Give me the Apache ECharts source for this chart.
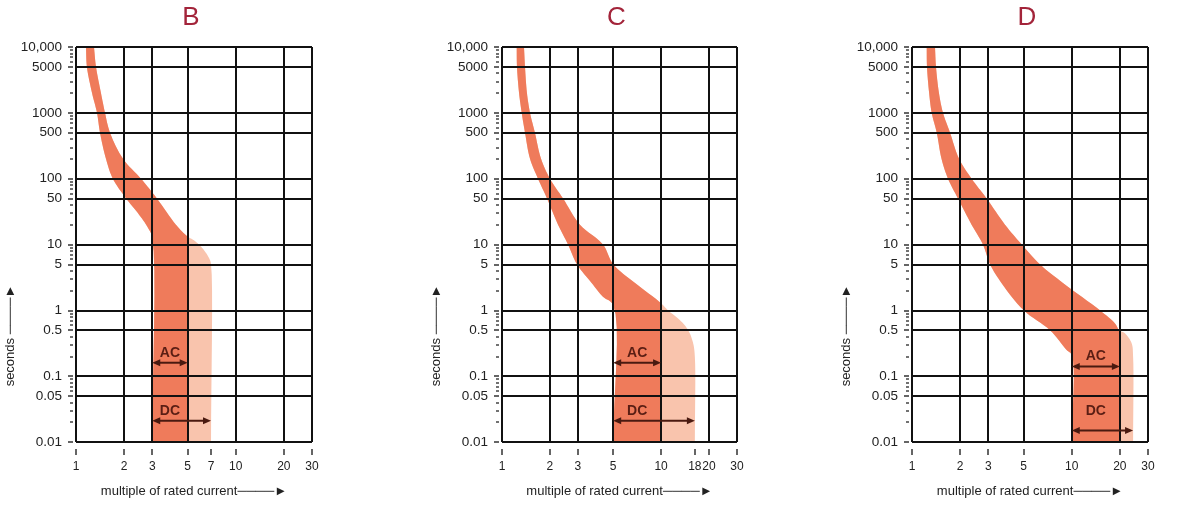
<!DOCTYPE html>
<html><head><meta charset="utf-8">
<script src="https://cdn.jsdelivr.net/npm/echarts@6/dist/echarts.min.js"></script>
<style>html,body{margin:0;padding:0;background:#fff}#c{width:1200px;height:510px}</style>
</head><body><div id="c"></div>
<script>
// ---------- axis ticks ----------
const xGridVals = [1, 2, 3, 5, 10, 20, 30];
const xTickValsB = [1, 2, 3, 5, 7, 10, 20, 30];
const xTickLabelsB = ['1', '2', '3', '5', '7', '10', '20', '30'];
const xTickValsC = [1, 2, 3, 5, 10, 16.3, 20, 30];   // "18" tick sits here in the reference
const xTickLabelsC = ['1', '2', '3', '5', '10', '18', '20', '30'];
const xTickValsD = [1, 2, 3, 5, 10, 20, 30];
const xTickLabelsD = ['1', '2', '3', '5', '10', '20', '30'];
const yTickVals = [0.01, 0.05, 0.1, 0.5, 1, 5, 10, 50, 100, 500, 1000, 5000, 10000];
const yTickLabels = ['0.01', '0.05', '0.1', '0.5', '1', '5', '10', '50', '100', '500', '1000', '5000', '10,000'];
const yMinorMultipliers = [2, 3, 4, 6, 7, 8, 9];
const yDecades = [0.01, 0.1, 1, 10, 100, 1000];

// ---------- trip-curve bands: [multiple of rated current, seconds] ----------
const bLeft = [[1.155,10000],[1.17,5000],[1.26,2000],[1.353,1000],[1.413,500],[1.54,200],[1.70,100],[2.06,50],[2.44,30],[2.82,18],[3,12.6],[3,0.01]];
const bRight = [[1.296,10000],[1.334,5000],[1.433,2000],[1.519,1000],[1.632,500],[1.97,200],[2.55,100],[3.21,50],[4.22,20],[5.0,13.2],[5.5,11.5],[6.3,8.3],[6.85,6],[7,5],[7,0.01]];
const cLeft = [[1.237,10000],[1.242,5000],[1.28,2000],[1.33,1000],[1.395,500],[1.5,200],[1.684,100],[1.918,50],[2.25,20],[2.6,10],[2.96,5],[3.66,2.6],[4.31,1.61],[5,1.2],[5,0.01]];
const cRight = [[1.375,10000],[1.395,5000],[1.435,2000],[1.5,1000],[1.61,500],[1.76,200],[2.0,100],[2.42,50],[3.09,20],[4.31,10],[5.0,5],[6.86,2.6],[10,1.28],[11.05,1],[13.1,0.714],[14.8,0.5],[15.9,0.316],[16.3,0.198],[16.3,0.01]];
const dLeft = [[1.236,10000],[1.241,5000],[1.28,2000],[1.328,1000],[1.428,500],[1.53,200],[1.68,100],[1.94,50],[2.36,20],[2.78,10],[3.08,5],[3.64,2.58],[5.0,1],[7.3,0.5],[9.29,0.25],[10,0.21],[10,0.01]];
const dRight = [[1.393,10000],[1.413,5000],[1.475,2000],[1.563,1000],[1.73,500],[1.97,200],[2.36,100],[2.93,50],[3.82,20],[4.86,10],[6.32,5],[8.85,2.58],[15,1],[18.6,0.637],[19.8,0.5],[21.5,0.449],[23.7,0.316],[24.2,0.198],[24.2,0.01]];

// ---------- AC / DC ranges ----------
const acRanges = [[3, 5], [5, 10], [10, 20]];
const dcRanges = [[3, 7], [5, 16.3], [10, 24.2]];
const acArrowY = [0.16, 0.16, 0.14];
const dcArrowY = [0.021, 0.021, 0.015];
const acTextY = [0.22, 0.22, 0.2];
const dcTextY = [0.029, 0.029, 0.029];
const titles = ['B', 'C', 'D'];

// ---------- styles ----------
const FONT = "'Liberation Sans', Arial, sans-serif";
const DARK = '#ef7b5b', LIGHT = '#f9c4ad', GRIDC = '#111', TXT = '#222', ARROWC = '#4a1a10';
const L = Math.log10;

const panelData = [
  {left: bLeft, right: bRight, xt: xTickValsB, xl: xTickLabelsB},
  {left: cLeft, right: cRight, xt: xTickValsC, xl: xTickLabelsC},
  {left: dLeft, right: dRight, xt: xTickValsD, xl: xTickLabelsD}
];
const gridBoxes = [
  {left: 76, top: 47, width: 236, height: 395},
  {left: 502, top: 47, width: 235, height: 395},
  {left: 912, top: 47, width: 236, height: 395}
];

const yMinorVals = [];
yDecades.forEach(d => yMinorMultipliers.forEach(m => yMinorVals.push(m * d)));

function findLabel(vals, labels, v) {
  for (let i = 0; i < vals.length; i++) if (Math.abs(L(vals[i]) - v) < 1e-6) return labels[i];
  return '';
}

// centripetal Catmull-Rom through pixel points (drawing only)
function smoothPx(pts, steps) {
  const n = pts.length;
  if (n < 3) return pts;
  const P = [[2 * pts[0][0] - pts[1][0], 2 * pts[0][1] - pts[1][1]]].concat(pts,
    [[2 * pts[n - 1][0] - pts[n - 2][0], 2 * pts[n - 1][1] - pts[n - 2][1]]]);
  const d = (a, b) => Math.max(Math.pow(Math.hypot(b[0] - a[0], b[1] - a[1]), 0.5), 1e-4);
  const out = [pts[0]];
  for (let i = 1; i < P.length - 2; i++) {
    const p0 = P[i - 1], p1 = P[i], p2 = P[i + 1], p3 = P[i + 2];
    const t0 = 0, t1 = t0 + d(p0, p1), t2 = t1 + d(p1, p2), t3 = t2 + d(p2, p3);
    for (let s = 1; s <= steps; s++) {
      const t = t1 + (t2 - t1) * s / steps;
      const lerp = (a, b, ta, tb) => [
        ((tb - t) * a[0] + (t - ta) * b[0]) / (tb - ta),
        ((tb - t) * a[1] + (t - ta) * b[1]) / (tb - ta)];
      const A1 = lerp(p0, p1, t0, t1), A2 = lerp(p1, p2, t1, t2), A3 = lerp(p2, p3, t2, t3);
      const B1 = lerp(A1, A2, t0, t2), B2 = lerp(A2, A3, t1, t3);
      out.push(lerp(B1, B2, t1, t2));
    }
  }
  return out;
}

const xAxes = [], yAxes = [], series = [], titleArr = [];
panelData.forEach((p, i) => {
  const g = gridBoxes[i];
  titleArr.push({text: titles[i], left: g.left + g.width / 2 - 3, top: 5, textAlign: 'center', padding: 0,
    textStyle: {fontFamily: FONT, fontSize: 26, fontWeight: 'normal', color: '#a3243a'}});
  // main x: grid lines + name
  xAxes.push({gridIndex: i, type: 'value', min: 0, max: L(30), z: 5, position: 'bottom',
    axisLine: {show: false, onZero: false}, axisTick: {show: false, customValues: xGridVals.map(L)},
    axisLabel: {show: false}, splitLine: {show: true, lineStyle: {color: GRIDC, width: 2}},
    name: 'multiple of rated current\u2500\u2500\u2500\u2500\u25BA', nameLocation: 'middle', nameGap: 43,
    nameTextStyle: {fontFamily: FONT, fontSize: 13, color: TXT}});
  // tick/label x
  xAxes.push({gridIndex: i, type: 'value', min: 0, max: L(30), position: 'bottom', offset: 7, z: 5,
    axisLine: {show: false, onZero: false},
    axisTick: {show: true, length: 6, customValues: p.xt.map(L), lineStyle: {color: '#333', width: 1.5}},
    axisLabel: {show: true, customValues: p.xt.map(L), margin: 12, fontFamily: FONT, fontSize: 12, color: TXT,
      formatter: v => findLabel(p.xt, p.xl, v)},
    splitLine: {show: false}});
  // main y: grid lines + labels + name
  yAxes.push({gridIndex: i, type: 'value', min: -2, max: 4, z: 5, position: 'left',
    axisLine: {show: false, onZero: false}, axisTick: {show: false, customValues: yTickVals.map(L)},
    axisLabel: {show: true, customValues: yTickVals.map(L), margin: 14, fontFamily: FONT, fontSize: 13.5, color: TXT,
      formatter: v => findLabel(yTickVals, yTickLabels, v)},
    splitLine: {show: true, lineStyle: {color: GRIDC, width: 2}},
    name: 'seconds \u2500\u2500\u2500\u2500\u25BA', nameLocation: 'middle', nameRotate: 90, nameGap: 58,
    nameTextStyle: {fontFamily: FONT, fontSize: 13, color: TXT, padding: [0, 182, 0, 0]}});
  // major ticks
  yAxes.push({gridIndex: i, type: 'value', min: -2, max: 4, offset: 3, z: 5, position: 'left',
    axisLine: {show: false, onZero: false},
    axisTick: {show: true, length: 5, customValues: yTickVals.map(L), lineStyle: {color: '#333', width: 1.5}},
    axisLabel: {show: false}, splitLine: {show: false}});
  // minor ticks
  yAxes.push({gridIndex: i, type: 'value', min: -2, max: 4, offset: 3, z: 5, position: 'left',
    axisLine: {show: false, onZero: false},
    axisTick: {show: true, length: 3, customValues: yMinorVals.map(L), lineStyle: {color: '#444', width: 1.5}},
    axisLabel: {show: false}, splitLine: {show: false}});

  const acMax = acRanges[i][1];
  const band = (dark, color, z) => ({
    type: 'custom', coordinateSystem: 'cartesian2d', xAxisIndex: 2 * i, yAxisIndex: 3 * i,
    silent: true, clip: true, z: z, animation: false, data: [0],
    renderItem: (params, api) => {
      const lp = smoothPx(p.left.map(q => api.coord([L(q[0]), L(q[1])])), 8);
      let rp = smoothPx(p.right.map(q => api.coord([L(q[0]), L(q[1])])), 8);
      if (dark) {
        const xa = api.coord([L(acMax), 0])[0];
        rp = rp.map(q => [Math.min(q[0], xa), q[1]]);
      }
      return {type: 'polygon', shape: {points: lp.concat(rp.slice().reverse())}, style: {fill: color}};
    }
  });
  series.push(band(false, LIGHT, 1));
  series.push(band(true, DARK, 2));

  // AC / DC arrows and labels
  const arrows = [
    {r: acRanges[i], y: acArrowY[i], ty: acTextY[i], t: 'AC'},
    {r: dcRanges[i], y: dcArrowY[i], ty: dcTextY[i], t: 'DC'}
  ];
  series.push({
    type: 'custom', coordinateSystem: 'cartesian2d', xAxisIndex: 2 * i, yAxisIndex: 3 * i,
    silent: true, z: 8, animation: false, data: arrows.map((a, k) => k),
    renderItem: (params, api) => {
      const a = arrows[params.dataIndex];
      const p1 = api.coord([L(a.r[0]), L(a.y)]);
      const p2 = api.coord([L(a.r[1]), L(a.y)]);
      const tx = (L(acRanges[i][0]) + L(acRanges[i][1])) / 2;
      const pt = api.coord([tx, L(a.ty)]);
      const h = 8, w = 3.5;
      return {type: 'group', children: [
        {type: 'line', shape: {x1: p1[0] + h - 1, y1: p1[1], x2: p2[0] - h + 1, y2: p2[1]},
          style: {stroke: ARROWC, lineWidth: 2}},
        {type: 'polygon', shape: {points: [[p1[0], p1[1]], [p1[0] + h, p1[1] - w], [p1[0] + h, p1[1] + w]]},
          style: {fill: ARROWC}},
        {type: 'polygon', shape: {points: [[p2[0], p2[1]], [p2[0] - h, p2[1] - w], [p2[0] - h, p2[1] + w]]},
          style: {fill: ARROWC}},
        {type: 'text', x: pt[0], y: pt[1],
          style: {text: a.t, align: 'center', verticalAlign: 'middle', textAlign: 'center', textVerticalAlign: 'middle',
            font: "bold 14px 'Liberation Sans', Arial, sans-serif", fill: '#5a1e14'}}
      ]};
    }
  });
});

const chart = echarts.init(document.getElementById('c'), null, {renderer: 'canvas'});
chart.setOption({
  animation: false,
  backgroundColor: '#fff',
  title: titleArr,
  grid: gridBoxes,
  xAxis: xAxes,
  yAxis: yAxes,
  series: series
});
</script></body></html>
